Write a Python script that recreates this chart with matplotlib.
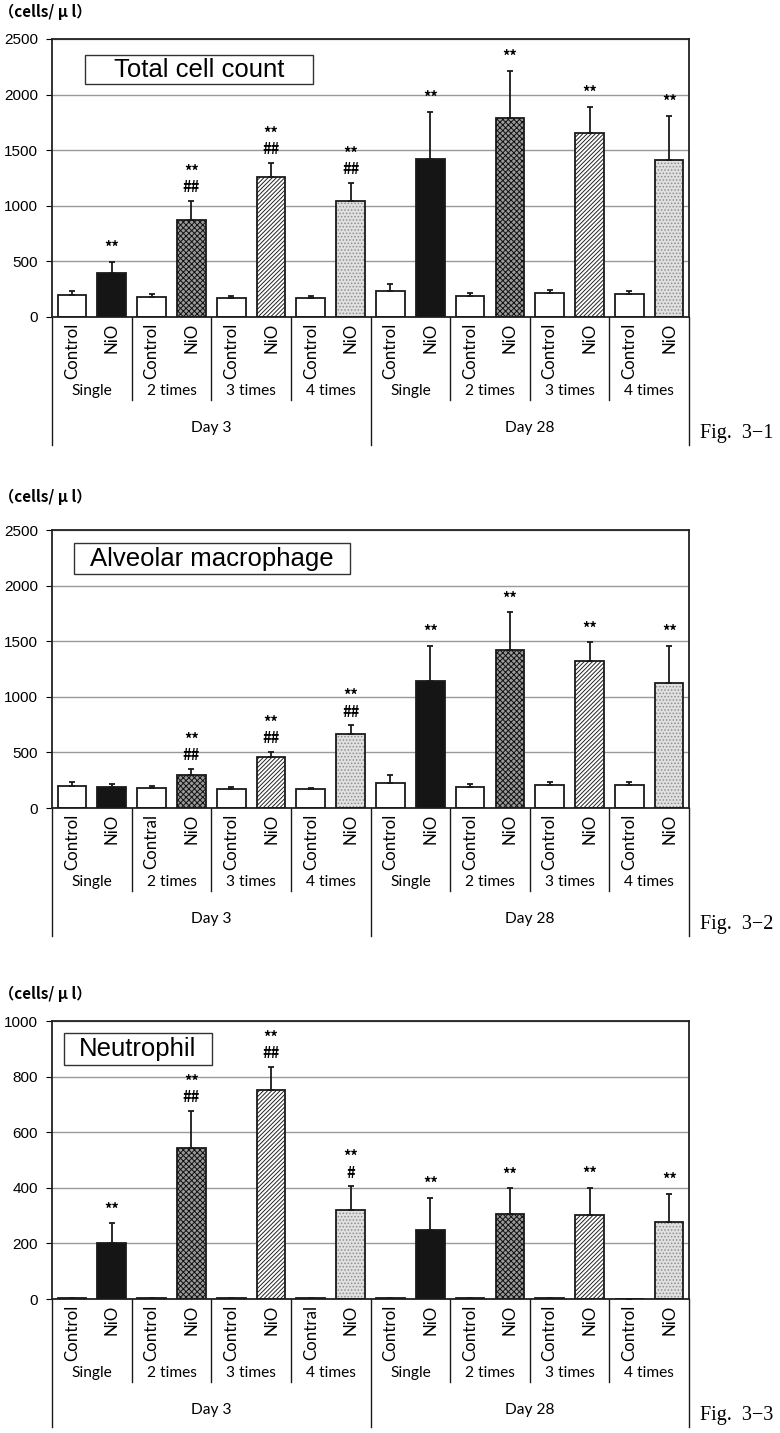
import numpy as np
import matplotlib
matplotlib.use("Agg")
import matplotlib.pyplot as plt

# ---- data ----
groups = ["Single", "2 times", "3 times", "4 times"]
days = ["Day 3", "Day 28"]
y_unit = "（cells/ μ l）"

total_mean = [200, 395, 180, 875, 175, 1255, 175, 1045, 230, 1425, 190, 1785, 215, 1655, 207, 1415]
total_err = [30, 100, 25, 165, 15, 130, 12, 160, 70, 420, 25, 430, 25, 235, 30, 395]
total_marks = [[], ["**"], [], ["**", "##"], [], ["**", "##"], [], ["**", "##"],
               [], ["**"], [], ["**"], [], ["**"], [], ["**"]]
total_ctrl = ["Control"] * 8

am_mean = [200, 190, 178, 298, 170, 463, 172, 663, 228, 1140, 190, 1420, 210, 1320, 205, 1125]
am_err = [30, 27, 24, 55, 15, 45, 12, 80, 70, 315, 27, 340, 25, 170, 25, 335]
am_marks = [[], [], [], ["**", "##"], [], ["**", "##"], [], ["**", "##"],
            [], ["**"], [], ["**"], [], ["**"], [], ["**"]]
am_ctrl = ["Control", "Contral"] + ["Control"] * 6

neu_mean = [2, 200, 2, 545, 2, 753, 2, 320, 2, 250, 2, 305, 2, 303, 1, 276]
neu_err = [0, 72, 0, 130, 0, 83, 0, 85, 0, 115, 0, 93, 0, 97, 0, 102]
neu_marks = [[], ["**"], [], ["**", "##"], [], ["**", "##"], [], ["**", "#"],
             [], ["**"], [], ["**"], [], ["**"], [], ["**"]]
neu_ctrl = ["Control", "Control", "Control", "Contral"] + ["Control"] * 4

panels = [
    ("Total cell count", total_mean, total_err, total_marks, total_ctrl, 2500, 500, "Fig.  3\u22121"),
    ("Alveolar macrophage", am_mean, am_err, am_marks, am_ctrl, 2500, 500, "Fig.  3\u22122"),
    ("Neutrophil", neu_mean, neu_err, neu_marks, neu_ctrl, 1000, 200, "Fig.  3\u22123"),
]

# (left, bottom, width, height) in figure fraction, and title box in axes fraction
ax_rects = [(0.0667, 0.7788, 0.8167, 0.1940),
            (0.0667, 0.4361, 0.8167, 0.1940),
            (0.0667, 0.0935, 0.8167, 0.1940)]
title_boxes = [(0.052, 0.838, 0.358, 0.104),
               (0.0345, 0.841, 0.4335, 0.112),
               (0.019, 0.841, 0.232, 0.116)]
unit_y = [1.097, 1.12, 1.097]

# fill styles per dose group (face, hatch, hatch colour)
niO_styles = [("#151515", None, None),
              ("#9a9a9a", "xxxxxx", "#111111"),
              ("white", "////////", "#222222"),
              ("#e0e0e0", ".....", "#8e8e8e")]

plt.rcParams["hatch.linewidth"] = 0.7
lab_font = "Lato"
tick_font = "Liberation Sans"

fig = plt.figure(figsize=(7.8, 14.33), dpi=100)

x = np.arange(16)
w = 0.72

for p, (title, mean, err, marks, ctrl, ymax, step, figlab) in enumerate(panels):
    ax = fig.add_axes(ax_rects[p])
    ax.set_xlim(-0.5, 15.5)
    ax.set_ylim(0, ymax)
    ax.set_yticks(np.arange(0, ymax + 1, step))
    ax.set_xticks([])
    for t in ax.get_yticklabels():
        t.set_fontfamily(tick_font)
        t.set_fontsize(11)
    ax.tick_params(axis="y", length=4, width=0.8, pad=6)
    ax.yaxis.grid(True, color="#999999", lw=1.0)
    ax.set_axisbelow(True)
    for s in ax.spines.values():
        s.set_linewidth(1.3)
        s.set_color("#222222")

    for i in range(16):
        g = (i // 2) % 4
        if i % 2 == 0:
            face, hatch, hc = "white", None, None
        else:
            face, hatch, hc = niO_styles[g]
        ax.bar(x[i], mean[i], width=w, color=face, hatch=hatch,
               edgecolor=hc if hc else face, linewidth=0, zorder=2)
        ax.bar(x[i], mean[i], width=w, fill=False, edgecolor="#1a1a1a",
               linewidth=1.3, zorder=3)
    ax.errorbar(x, mean, yerr=[np.zeros(16), err], fmt="none", ecolor="#1a1a1a",
                elinewidth=1.3, capsize=2.5, capthick=1.3, zorder=4)

    # significance marks
    for i in range(16):
        rows = marks[i]
        top = mean[i] + err[i]
        for k, s in enumerate(reversed(rows)):
            ax.annotate(s, (x[i], top), xytext=(0, 10 + 11 * k), textcoords="offset points",
                        ha="center", va="center", fontsize=10.5, fontweight="bold",
                        family=["Noto Sans CJK JP", "DejaVu Sans"])

    # title box
    bx, by, bw, bh = title_boxes[p]
    ax.add_patch(plt.Rectangle((bx, by), bw, bh, transform=ax.transAxes, fill=True,
                               facecolor="white", edgecolor="#333333", lw=1.0, zorder=5))
    ax.text(bx + bw / 2, by + bh / 2, title, transform=ax.transAxes, ha="center",
            va="center", fontsize=18.5, family="Liberation Sans", zorder=6)

    # unit label
    ax.text(-0.083, unit_y[p], y_unit, transform=ax.transAxes, ha="left", va="center",
            fontsize=11, fontweight="bold", family=["Noto Sans CJK JP", "DejaVu Sans"])

    # category table below the axis
    tr = ax.get_xaxis_transform()
    for i in range(16):
        lab = ctrl[i // 2] if i % 2 == 0 else "NiO"
        ax.text(x[i], -0.022, lab, transform=tr, rotation=90, ha="center", va="top",
                fontsize=12.2, family=lab_font)
    for j in range(8):
        ax.text(2 * j + 0.5, -0.265, groups[j % 4], transform=tr, ha="center",
                va="center", fontsize=11.2, family=lab_font)
    for d in range(2):
        ax.text(8 * d + 3.5, -0.40, days[d], transform=tr, ha="center", va="center",
                fontsize=11.2, family=lab_font)
    for xs in [1.5, 3.5, 5.5, 9.5, 11.5, 13.5]:
        ax.plot([xs, xs], [0, -0.30], transform=tr, color="#1a1a1a", lw=1.0, clip_on=False)
    for xs in [-0.5, 7.5, 15.5]:
        ax.plot([xs, xs], [0, -0.46], transform=tr, color="#1a1a1a", lw=1.0, clip_on=False)

    ax.text(1.0165, -0.419, figlab, transform=ax.transAxes, ha="left", va="center",
            fontsize=14.5, family="Liberation Serif")

fig.savefig("out.png", dpi=100)
